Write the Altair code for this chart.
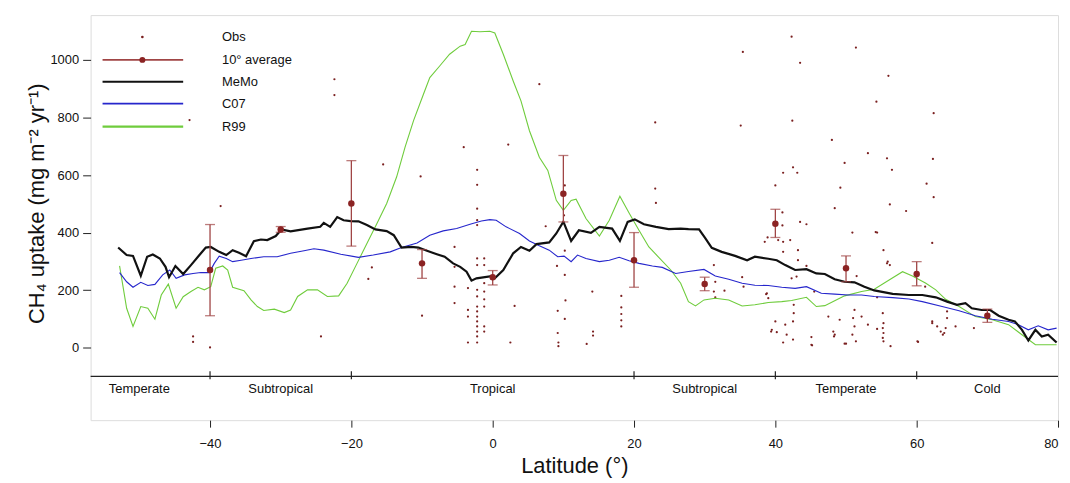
import altair as alt
import pandas as pd

FONT = "Liberation Sans"

# ---------------- data ----------------
memo_lat = [-53.0,-51.8,-50.9,-49.8,-48.9,-48.1,-47.1,-46.3,-45.8,-44.9,-43.8,-42.7,-41.5,-40.6,-39.9,-38.7,-37.7,-36.8,-35.9,-34.9,
            -33.8,-32.8,-31.9,-30.7,-29.9,-28.6,-26.2,-24.4,-23.9,-23.0,-22.0,-21.1,-20.1,-19.0,-17.8,-16.6,-15.0,-14.0,-12.9,-11.5,
            -10.5,-9.3,-7.9,-6.8,-5.6,-4.6,-3.7,-3.0,-2.3,-0.4,0.3,1.5,2.9,4.0,5.2,6.2,8.0,9.0,10.0,11.1,
            12.2,13.9,15.1,16.9,18.0,19.1,20.1,21.4,23.1,24.9,26.6,27.7,29.2,30.1,31.0,32.4,34.3,36.0,37.1,39.0,
            40.2,41.4,42.8,44.4,45.8,47.0,48.4,49.8,51.2,52.6,54.0,56.6,58.9,60.8,62.7,64.3,65.7,66.9,67.8,69.2,
            70.4,71.6,73.0,73.9,74.9,75.8,76.8,77.7,78.6,79.8]
memo_val = [348,322,319,250,316,324,310,281,245,284,256,287,322,348,350,333,322,339,330,318,
            370,376,374,388,411,404,414,420,434,420,454,443,440,439,426,411,405,391,348,350,
            348,337,325,316,293,281,264,233,241,248,241,270,328,350,337,360,366,397,438,371,
            408,399,420,414,371,437,446,429,420,412,414,412,411,380,347,333,319,304,316,309,
            304,287,270,273,258,256,238,229,227,212,199,187,183,183,175,160,149,155,137,131,
            131,111,97,91,62,25,62,39,45,18]

c07_lat = [-52.8,-51.8,-50.9,-49.8,-48.8,-47.8,-46.7,-45.7,-44.8,-43.6,-42.4,-41.3,-40.1,-39.4,-38.7,-37.7,-36.8,-35.6,-34.2,-32.4,
           -30.5,-28.6,-26.7,-25.3,-23.9,-21.5,-19.0,-16.9,-14.5,-12.9,-10.7,-8.9,-7.0,-5.1,-3.2,-1.6,-0.4,0.5,1.9,3.8,
           5.2,6.6,8.0,9.2,10.1,11.1,12.0,13.2,15.1,16.5,17.9,19.3,20.7,22.6,24.0,25.9,27.7,29.9,31.5,33.4,
           35.3,37.1,39.0,40.9,42.8,44.4,46.5,48.4,50.3,52.2,54.0,56.6,58.9,60.8,63.6,66.0,68.3,70.7,73.0,74.4,
           75.8,77.2,78.6,79.8]
c07_val = [261,229,210,227,216,220,253,270,241,253,258,261,261,293,318,310,299,304,310,316,
           316,328,337,344,339,325,314,322,333,348,364,391,406,414,429,440,445,443,420,397,
           371,354,339,316,318,299,322,310,299,304,314,302,293,284,279,258,265,272,249,238,
           224,217,216,210,206,212,189,186,183,183,178,174,169,160,143,128,111,99,91,80,
           62,76,62,68]

r99_lat = [-52.8,-51.8,-50.9,-49.8,-48.8,-47.8,-46.9,-45.9,-44.8,-43.8,-42.7,-41.7,-40.8,-39.9,-39.2,-38.2,-37.5,-36.8,-35.2,-34.2,
           -33.3,-32.4,-30.9,-29.5,-28.6,-27.6,-26.2,-24.8,-23.4,-21.8,-20.6,-19.2,-17.8,-16.4,-15.0,-13.6,-12.4,-11.2,-9.8,-8.9,
           -7.5,-6.1,-4.6,-3.9,-3.0,-1.8,-0.4,0.3,1.5,2.9,4.0,5.2,6.6,7.8,9.0,10.0,11.1,11.8,13.2,15.1,
           16.5,18.0,19.3,20.7,22.1,23.5,25.2,26.6,27.7,28.7,29.9,31.5,33.4,35.3,37.1,39.0,40.9,42.3,44.4,45.8,
           47.0,48.4,49.8,52.2,54.0,56.1,58.0,59.4,61.3,62.7,64.1,66.0,68.3,70.7,73.0,74.9,76.8,78.6,79.8]
r99_val = [284,137,74,143,137,99,183,221,137,177,195,210,201,212,276,284,270,210,198,166,
           143,129,134,122,131,178,201,201,178,180,224,293,362,431,501,593,697,789,881,939,
           979,1020,1048,1054,1100,1098,1100,1094,1020,927,858,754,662,616,512,477,512,516,449,388,
           443,526,468,408,350,314,270,224,160,145,166,172,166,145,149,157,160,164,175,143,
           146,163,180,195,203,235,264,249,224,201,168,143,108,97,80,45,10,10,10]

avg_lat = [-40, -30, -20, -10, 0, 10, 20, 30, 40, 50, 60, 70]
avg_val = [270, 411, 501, 293, 245, 535, 304, 221, 431, 276, 256, 111]
avg_lo = [111, 401, 353, 241, 218, 437, 210, 198, 383, 229, 215, 88]
avg_hi = [428, 421, 650, 341, 268, 668, 400, 245, 481, 319, 299, 134]

obs_lat = [-42.9,-22.4,-22.4,-38.5,-42.4,-42.4,-40.0,-24.3,
           -15.5,-10.2,-4.1,-2.2,-2.2,2.2,6.6,23.0,23.0,23.1,10.2,
           -17.1,-17.6,-5.4,-5.4,-5.4,-5.4,-10.0,-2.2,-2.2,
           -2.2,-2.2,-2.2,-2.2,-2.2,-2.2,-2.2,-2.2,-2.2,-2.2,-2.2,-2.2,-2.2,
           -3.5,-3.5,-3.5,-3.5,
           -1.2,-1.2,-1.2,-1.2,-1.2,-1.2,-1.2,-1.2,
           3.1,2.5,7.5,9.1,9.2,9.2,9.3,9.3,10.2,10.3,10.2,10.2,10.1,
           14.1,14.2,14.2,13.3,18.2,18.2,18.2,18.2,18.2,31.5,31.5,
           42.3,35.4,43.5,51.4,56.0,54.3,62.4,35.1,42.4,48.0,53.1,55.8,56.5,62.3,49.8,42.5,41.1,43.1,40.0,49.2,61.4,62.4,
           48.4,50.9,54.4,41.0,41.0,38.5,38.9,40.4,41.1,41.1,42.1,43.5,44.4,43.2,43.2,43.0,44.4,42.3,
           31.3,31.3,35.3,35.5,32.8,38.8,39.0,40.0,39.5,40.2,41.4,41.6,41.1,42.6,42.6,42.5,45.1,45.1,45.5,47.5,48.2,48.3,49.1,49.8,
           51.2,51.0,51.2,50.9,51.4,52.2,53.1,54.4,55.2,55.3,55.3,55.3,55.3,55.8,54.4,51.5,
           56.2,58.5,54.2,62.2,55.9,56.2,61.2,55.2,56.3,60.1,62.2,62.9,63.4,63.9,64.1,64.3,64.3,63.7,65.5,68.1,
           38.7,39.4,42.5,45.2,48.4,50.0,55.2,60.2,62.2]
obs_val = [791,933,878,492,39,20,1,39,
           637,595,697,618,566,706,916,783,553,503,564,
           279,239,350,281,212,155,111,483,443,
           426,310,287,201,178,143,126,108,91,74,56,39,18,
           207,131,108,18,
           310,287,224,195,168,143,74,56,
           145,18,422,284,128,51,18,5,253,164,100,337,460,
           195,56,42,13,180,140,117,95,74,229,175,
           1081,1028,990,1043,945,855,815,772,789,722,676,658,618,656,642,627,608,608,564,556,570,523,
           485,400,400,470,425,368,383,374,368,333,374,437,429,339,304,247,284,241,
           287,195,245,212,198,189,172,91,62,54,80,45,18,149,120,91,37,10,195,108,56,39,97,14,
           131,103,74,45,22,108,80,65,120,85,51,22,339,293,175,249,
           498,475,402,364,299,287,212,68,5,22,91,74,56,51,68,103,126,45,74,68,
           186,56,28,8,45,14,34,20,85]

zone_names = ["Temperate", "Subtropical", "Tropical", "Subtropical", "Temperate", "Cold"]
zone_centers = [-50, -30, 0, 30, 50, 70]
zone_bounds = [-40, -20, 20, 40, 60]

legend_labels = ["Obs", "10° average", "MeMo", "C07", "R99"]

x_ticks = [-40, -20, 0, 20, 40, 60, 80]
y_ticks = [0, 200, 400, 600, 800, 1000]

# ---------------- styling ----------------
COL_OBS = "#7a1f1f"
COL_AVG = "#8b2323"
COL_ERR = "#a04545"
COL_MEMO = "#111111"
COL_C07 = "#2626cc"
COL_R99 = "#6fcc3c"

SEP_Y = -100
ZONE_LABEL_Y = -145

xs = alt.Scale(domain=[-56.9, 80], nice=False, zero=False)
ys = alt.Scale(domain=[-252, 1156], nice=False, zero=False)

x_axis = alt.Axis(values=x_ticks, title="Latitude (°)", grid=False, domain=False, format="d",
                  tickSize=7, tickColor="#222", labelFontSize=13, labelFont=FONT,
                  labelColor="#111", labelPadding=10, titleFontSize=22, titleFont=FONT,
                  titleFontWeight="normal", titleColor="#111", titlePadding=6)
y_axis = alt.Axis(values=y_ticks, title="CH₄ uptake (mg m⁻² yr⁻¹)", grid=False, domain=False,
                  format="d",
                  tickSize=8, tickColor="#222", labelFontSize=13, labelFont=FONT,
                  labelColor="#111", labelPadding=4, titleFontSize=22, titleFont=FONT,
                  titleFontWeight="normal", titleColor="#111",
                  titleAngle=270, titleX=-54, titleY=189, titleAlign="center",
                  titleBaseline="middle")


def X(field):
    return alt.X(field, type="quantitative", scale=xs, axis=x_axis)


def Y(field):
    return alt.Y(field, type="quantitative", scale=ys, axis=y_axis)


memo_df = pd.DataFrame({"lat": memo_lat, "val": memo_val})
c07_df = pd.DataFrame({"lat": c07_lat, "val": c07_val})
r99_df = pd.DataFrame({"lat": r99_lat, "val": r99_val})
avg_df = pd.DataFrame({"lat": avg_lat, "val": avg_val, "lo": avg_lo, "hi": avg_hi})
obs_df = pd.DataFrame({"lat": obs_lat, "val": obs_val})
zone_df = pd.DataFrame({"lat": zone_centers, "name": zone_names,
                        "y": [ZONE_LABEL_Y] * len(zone_names)})
bound_df = pd.DataFrame({"lat": zone_bounds,
                         "y1": [SEP_Y + 18] * len(zone_bounds),
                         "y2": [SEP_Y - 10] * len(zone_bounds)})
sep_df = pd.DataFrame({"y": [SEP_Y]})

sep = alt.Chart(sep_df).mark_rule(color="#222", strokeWidth=1.2).encode(y=Y("y"))
bounds = alt.Chart(bound_df).mark_rule(color="#222", strokeWidth=1.2).encode(
    x=X("lat"), y=Y("y1"), y2="y2")
zones = alt.Chart(zone_df).mark_text(fontSize=13, font=FONT, color="#111",
                                     baseline="middle").encode(x=X("lat"), y=Y("y"), text="name:N")

obs = alt.Chart(obs_df).mark_circle(size=5, color=COL_OBS, opacity=1).encode(x=X("lat"), y=Y("val"))
r99 = alt.Chart(r99_df).mark_line(color=COL_R99, strokeWidth=1.1).encode(x=X("lat"), y=Y("val"))
c07 = alt.Chart(c07_df).mark_line(color=COL_C07, strokeWidth=1.1).encode(x=X("lat"), y=Y("val"))
memo = alt.Chart(memo_df).mark_line(color=COL_MEMO, strokeWidth=2.2).encode(x=X("lat"), y=Y("val"))

err = alt.Chart(avg_df).mark_rule(color=COL_ERR, strokeWidth=1.3).encode(x=X("lat"), y=Y("lo"), y2="hi")
cap_lo = alt.Chart(avg_df).mark_tick(color=COL_ERR, orient="horizontal", size=10, thickness=1.3).encode(
    x=X("lat"), y=Y("lo"))
cap_hi = alt.Chart(avg_df).mark_tick(color=COL_ERR, orient="horizontal", size=10, thickness=1.3).encode(
    x=X("lat"), y=Y("hi"))
avg = alt.Chart(avg_df).mark_circle(size=42, color=COL_AVG, opacity=1).encode(x=X("lat"), y=Y("val"))

# ---------------- legend (drawn by hand, inside the plot) ----------------
leg_rows = [22, 45, 67, 89, 112]
LINE_X0, LINE_X1, DOT_X, TEXT_X = 12, 93, 52, 132
leg_layers = []
for i, label in enumerate(legend_labels):
    d = pd.DataFrame({"label": [label]})
    yy = leg_rows[i]
    if label == "Obs":
        leg_layers.append(alt.Chart(d).mark_circle(size=7, color=COL_OBS, opacity=1).encode(
            x=alt.value(DOT_X), y=alt.value(yy)))
    else:
        col = {"10° average": COL_ERR, "MeMo": COL_MEMO, "C07": COL_C07, "R99": COL_R99}[label]
        w = 1.6 if label != "MeMo" else 2.2
        if label == "R99":
            w = 2.2
        leg_layers.append(alt.Chart(d).mark_rule(color=col, strokeWidth=w).encode(
            x=alt.value(LINE_X0), x2=alt.value(LINE_X1), y=alt.value(yy)))
        if label == "10° average":
            leg_layers.append(alt.Chart(d).mark_circle(size=36, color=COL_AVG, opacity=1).encode(
                x=alt.value(DOT_X), y=alt.value(yy)))
    leg_layers.append(alt.Chart(d).mark_text(align="left", baseline="middle", fontSize=13,
                                             font=FONT, color="#111").encode(
        x=alt.value(TEXT_X), y=alt.value(yy), text="label:N"))

chart = alt.layer(sep, bounds, zones, obs, r99, c07, memo, err, cap_lo, cap_hi, avg,
                  *leg_layers).properties(
    width=972, height=407,
    autosize=alt.AutoSizeParams(type="none"),
    padding={"left": 83, "top": 6, "right": 4, "bottom": 60},
).configure_view(stroke="#333", strokeWidth=1.5).configure(background="white")

chart.save("out.html", embed_options={"renderer": "svg", "actions": False})
